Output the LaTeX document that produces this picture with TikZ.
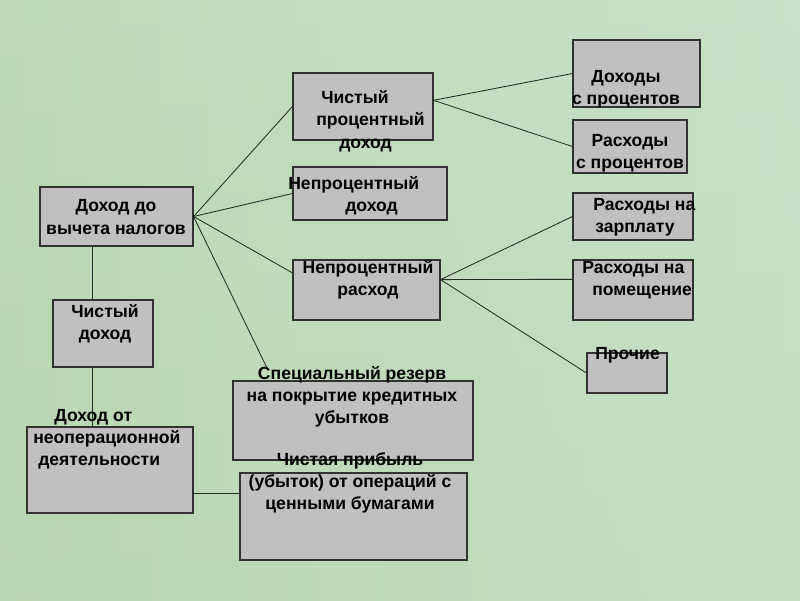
\documentclass[tikz,border=0pt]{standalone}
\usepackage{fontspec}
\setmainfont{Liberation Sans}
\usetikzlibrary{fit}

\definecolor{bggreen}{RGB}{182,212,174}
\definecolor{bglight}{RGB}{206,230,206}
\definecolor{boxgray}{RGB}{192,192,192}
\definecolor{edgegray}{RGB}{50,50,50}
\definecolor{linedark}{RGB}{35,45,35}

\begin{document}
\begin{tikzpicture}[x=0.025cm,y=-0.025cm,
    blk/.style={draw=edgegray,fill=boxgray,line width=0.8pt,inner sep=0pt},
    lbl/.style={font=\fontsize{12.5}{15.8}\selectfont\bfseries,inner sep=0pt},
    conn/.style={draw=linedark,line width=0.6pt}]
    % background
    \shade[left color=bggreen,right color=bglight] (0,0) rectangle (800,600);
    \shade[top color=bglight!60!bggreen,bottom color=bggreen!80!bglight,opacity=0.5] (0,0) rectangle (800,600);
    \useasboundingbox (0,0) rectangle (800,600);
    % boxes
    \node[blk,fit={(40,187) (193,246)}] (dvn) {};
    \node[blk,fit={(53,300) (153,367)}] (cd) {};
    \node[blk,fit={(27,427) (193,513)}] (dno) {};
    \node[blk,fit={(293,73) (433,140)}] (cpd) {};
    \node[blk,fit={(293,167) (447,220)}] (npd) {};
    \node[blk,fit={(293,260) (440,320)}] (npr) {};
    \node[blk,fit={(573,40) (700,107)}] (dp) {};
    \node[blk,fit={(573,120) (687,173)}] (rp) {};
    \node[blk,fit={(573,193) (693,240)}] (rz) {};
    \node[blk,fit={(573,260) (693,320)}] (pom) {};
    \node[blk,fit={(587,353) (667,393)}] (pr) {};
    \node[blk,fit={(233,381) (473,460)}] (rez) {};
    \node[blk,fit={(240,473) (467,560)}] (chp) {};
    % connectors
    \coordinate (rezTop) at (268,370);
    \draw[conn] (dvn.east) -- (cpd.west);
    \draw[conn] (dvn.east) -- (npd.west);
    \draw[conn] (dvn.east) -- (npr.167);
    \draw[conn] (dvn.east) -- (rezTop);
    \draw[conn] (cpd.5) -- (dp.west);
    \draw[conn] (cpd.5) -- (rp.west);
    \draw[conn] (npr.8) -- (rz.west);
    \draw[conn] (npr.8) -- (pom.170);
    \draw[conn] (npr.8) -- (pr.west);
    \draw[conn] ([xshift=1cm]cd.north west |- dvn.south) -- ([xshift=1cm]cd.north west);
    \draw[conn] ([xshift=1cm]cd.south west) -- ([xshift=1cm]cd.south west |- dno.north);
    \draw[conn] ([yshift=0.5cm]dno.south east) -- ([yshift=0.5cm]dno.south east -| chp.west);
    % texts
    \node[lbl,align=center] (tdvn) at (116,217) {Доход до\\вычета налогов};
    \node[lbl,align=center] (tcd) at (105,324) {Чистый\\доход};
    \node[lbl,align=left,anchor=west] (tdno) at (33,439) {\hspace*{0.525cm}Доход от\\неоперационной\\\hspace*{0.125cm}деятельности};
    \node[lbl,align=left,anchor=west] (tcpd) at (316,121) {\hspace*{0.125cm}Чистый\\процентный\\\hspace*{0.575cm}доход};
    \node[lbl,align=left,anchor=west] (tnpd) at (288,196) {Непроцентный\\\hspace*{1.425cm}доход};
    \node[lbl,align=center] (tnpr) at (368,280) {Непроцентный\\расход};
    \node[lbl,align=center] (tdp) at (626,89) {Доходы\\с процентов};
    \node[lbl,align=center] (trp) at (630,153) {Расходы\\с процентов};
    \node[lbl,align=left,anchor=west] (trz) at (593,217) {Расходы на\\\hspace*{0.05cm}зарплату};
    \node[lbl,align=left,anchor=west] (tpom) at (582,280) {Расходы на\\\hspace*{0.25cm}помещение};
    \node[lbl,anchor=west] (tpr) at (595,355) {Прочие};
    \node[lbl,align=center] (trez) at (352,397) {Специальный резерв\\на покрытие кредитных\\убытков};
    \node[lbl,align=center] (tchp) at (350,483) {Чистая прибыль\\(убыток) от операций с\\ценными бумагами};
\end{tikzpicture}
\end{document}
